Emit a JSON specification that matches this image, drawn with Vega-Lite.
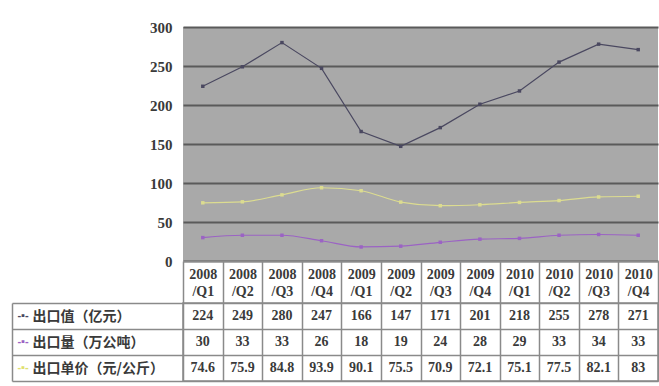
{
  "$schema": "https://vega.github.io/schema/vega-lite/v6.json",
  "padding": {"left": 10, "top": 20, "right": 0, "bottom": 0},
  "spacing": 42,
  "bounds": "flush",
  "background": "white",
  "datasets": {
    "series": [
      {"q": "2008/Q1", "s": "出口值（亿元）", "v": 224},
      {"q": "2008/Q2", "s": "出口值（亿元）", "v": 249},
      {"q": "2008/Q3", "s": "出口值（亿元）", "v": 280},
      {"q": "2008/Q4", "s": "出口值（亿元）", "v": 247},
      {"q": "2009/Q1", "s": "出口值（亿元）", "v": 166},
      {"q": "2009/Q2", "s": "出口值（亿元）", "v": 147},
      {"q": "2009/Q3", "s": "出口值（亿元）", "v": 171},
      {"q": "2009/Q4", "s": "出口值（亿元）", "v": 201},
      {"q": "2010/Q1", "s": "出口值（亿元）", "v": 218},
      {"q": "2010/Q2", "s": "出口值（亿元）", "v": 255},
      {"q": "2010/Q3", "s": "出口值（亿元）", "v": 278},
      {"q": "2010/Q4", "s": "出口值（亿元）", "v": 271},
      {"q": "2008/Q1", "s": "出口量（万公吨）", "v": 30},
      {"q": "2008/Q2", "s": "出口量（万公吨）", "v": 33},
      {"q": "2008/Q3", "s": "出口量（万公吨）", "v": 33},
      {"q": "2008/Q4", "s": "出口量（万公吨）", "v": 26},
      {"q": "2009/Q1", "s": "出口量（万公吨）", "v": 18},
      {"q": "2009/Q2", "s": "出口量（万公吨）", "v": 19},
      {"q": "2009/Q3", "s": "出口量（万公吨）", "v": 24},
      {"q": "2009/Q4", "s": "出口量（万公吨）", "v": 28},
      {"q": "2010/Q1", "s": "出口量（万公吨）", "v": 29},
      {"q": "2010/Q2", "s": "出口量（万公吨）", "v": 33},
      {"q": "2010/Q3", "s": "出口量（万公吨）", "v": 34},
      {"q": "2010/Q4", "s": "出口量（万公吨）", "v": 33},
      {"q": "2008/Q1", "s": "出口单价（元/公斤）", "v": 74.6},
      {"q": "2008/Q2", "s": "出口单价（元/公斤）", "v": 75.9},
      {"q": "2008/Q3", "s": "出口单价（元/公斤）", "v": 84.8},
      {"q": "2008/Q4", "s": "出口单价（元/公斤）", "v": 93.9},
      {"q": "2009/Q1", "s": "出口单价（元/公斤）", "v": 90.1},
      {"q": "2009/Q2", "s": "出口单价（元/公斤）", "v": 75.5},
      {"q": "2009/Q3", "s": "出口单价（元/公斤）", "v": 70.9},
      {"q": "2009/Q4", "s": "出口单价（元/公斤）", "v": 72.1},
      {"q": "2010/Q1", "s": "出口单价（元/公斤）", "v": 75.1},
      {"q": "2010/Q2", "s": "出口单价（元/公斤）", "v": 77.5},
      {"q": "2010/Q3", "s": "出口单价（元/公斤）", "v": 82.1},
      {"q": "2010/Q4", "s": "出口单价（元/公斤）", "v": 83}
    ]
  },
  "vconcat": [
    {
      "width": 475,
      "height": 234,
      "view": {"fill": "#a9a9a9", "stroke": null},
      "data": {"name": "series"},
      "encoding": {
        "x": {
          "field": "q", "type": "ordinal", "sort": null, "title": null,
          "scale": {"paddingInner": 0, "paddingOuter": 0},
          "axis": {
            "labelAngle": 0, "tickBand": "extent", "tickSize": 42, "tickColor": "#8a8a8a", "tickWidth": 1.5,
            "domainColor": "#8a8a8a", "labelPadding": -36, "labelBaseline": "top",
            "labelExpr": "datum.value ? [substring(datum.value,0,4), substring(datum.value,4)] : ''",
            "labelLineHeight": 17, "labelFont": "Liberation Serif", "labelFontWeight": "bold",
            "labelFontSize": 14, "labelColor": "#3a3a3a"
          }
        },
        "y": {
          "field": "v", "type": "quantitative", "title": null,
          "scale": {"domain": [0, 300]},
          "axis": {
            "values": [0, 50, 100, 150, 200, 250, 300], "grid": true, "gridColor": "#5a5a5a", "gridWidth": 2,
            "domain": false, "ticks": false, "labelPadding": 11, "labelFont": "Liberation Serif",
            "labelFontWeight": "bold", "labelFontSize": 15, "labelColor": "#3a3a3a"
          }
        },
        "color": {
          "field": "s", "type": "nominal", "legend": null,
          "scale": {"domain": ["出口值（亿元）", "出口量（万公吨）", "出口单价（元/公斤）"], "range": ["#4a4860", "#9b63c4", "#dcdc90"]}
        }
      },
      "layer": [
        {"transform": [{"filter": "datum.s == '出口值（亿元）'"}], "mark": {"type": "line", "strokeWidth": 1.2}},
        {"transform": [{"filter": "datum.s != '出口值（亿元）'"}], "mark": {"type": "line", "strokeWidth": 1.2, "interpolate": "monotone"}},
        {"mark": {"type": "point", "shape": "square", "filled": true, "size": 12, "opacity": 1}}
      ]
    },
    {
      "width": 475,
      "height": 78,
      "view": {"stroke": "#8a8a8a", "strokeWidth": 1.5},
      "data": {"name": "series"},
      "layer": [
        {
          "mark": {"type": "text", "font": "Liberation Serif", "fontWeight": "bold", "fontSize": 14, "color": "#3a3a3a"},
          "encoding": {
            "x": {
              "field": "q", "type": "ordinal", "sort": null, "title": null,
              "scale": {"paddingInner": 0, "paddingOuter": 0},
              "axis": {"labels": false, "ticks": false, "domain": false, "grid": true, "tickBand": "extent", "gridColor": "#8a8a8a", "gridWidth": 1.5}
            },
            "y": {
              "field": "s", "type": "nominal", "title": null,
              "sort": ["出口值（亿元）", "出口量（万公吨）", "出口单价（元/公斤）"],
              "scale": {"paddingInner": 0, "paddingOuter": 0},
              "axis": {
                "tickBand": "extent", "tickSize": 171, "tickColor": "#8a8a8a", "tickWidth": 1.5, "grid": true,
                "gridColor": "#8a8a8a", "gridWidth": 1.5, "domainColor": "#8a8a8a",
                "labelAlign": "left", "labelPadding": -20, "labelFont": "Noto Sans CJK SC", "labelFontWeight": "bold",
                "labelFontSize": 14, "labelColor": "#3a3a3a",
                "labelExpr": "datum.value ? datum.value : ''"
              }
            },
            "text": {"field": "v", "type": "nominal"}
          }
        },
        {
          "mark": {"type": "text", "opacity": 0},
          "encoding": {
            "y": {
              "field": "s", "type": "nominal", "title": null,
              "sort": ["出口值（亿元）", "出口量（万公吨）", "出口单价（元/公斤）"],
              "axis": {
                "orient": "left", "offset": 171, "ticks": false, "grid": false, "domain": true,
                "domainColor": "#8a8a8a", "domainWidth": 1.5,
                "labelAlign": "left", "labelPadding": -5, "labelFontSize": 11, "labelFontWeight": "bold",
                "labelExpr": "datum.value ? '-▪-' : ''",
                "labelColor": {
                  "condition": [
                    {"test": "datum.value == '出口值（亿元）'", "value": "#4a4860"},
                    {"test": "datum.value == '出口量（万公吨）'", "value": "#9b63c4"}
                  ],
                  "value": "#e0e070"
                }
              }
            },
            "text": {"field": "v", "type": "nominal"}
          }
        }
      ],
      "resolve": {"axis": {"y": "independent"}}
    }
  ]
}
